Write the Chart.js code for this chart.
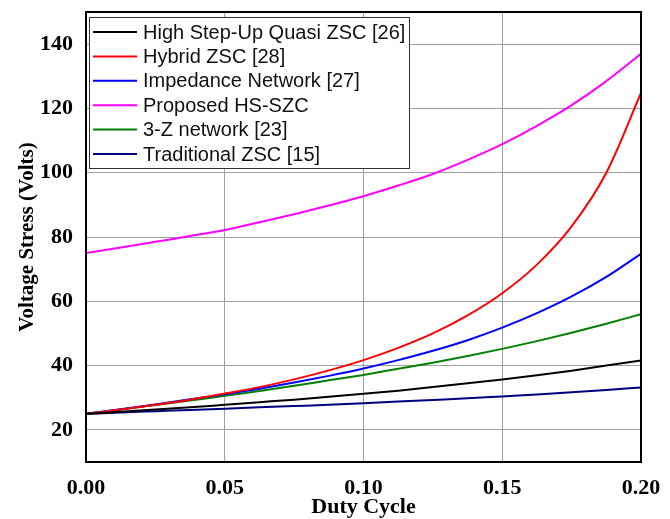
<!DOCTYPE html>
<html>
<head>
<meta charset="utf-8">
<script src="https://cdn.jsdelivr.net/npm/chart.js@4.4.1/dist/chart.umd.min.js"></script>
<style>
  html, body { margin: 0; padding: 0; background: #fff; }
  #wrap { width: 670px; height: 519px; }
</style>
</head>
<body>
<div id="wrap"><canvas id="stressChart" width="670" height="519"></canvas></div>
<script>
// duty cycle samples and voltage stress
const dutyCycle = [0, 0.0125, 0.025, 0.0375, 0.05, 0.0625, 0.075, 0.0875, 0.1, 0.1125, 0.125, 0.1375, 0.15, 0.1625, 0.175, 0.1875, 0.2];

const highStepUp  = [25, 25.6, 26.3, 27.0, 27.8, 28.6, 29.4, 30.3, 31.2, 32.2, 33.3, 34.5, 35.7, 37.0, 38.4, 40.0, 41.6];
const hybridZsc   = [25, 26.3, 27.8, 29.4, 31.3, 33.3, 35.7, 38.5, 41.7, 45.5, 50.0, 55.6, 62.5, 71.4, 83.3, 100.0, 124.8];
const impedance   = [25, 26.4, 27.9, 29.5, 31.1, 32.8, 34.7, 36.8, 39.1, 41.7, 44.6, 47.9, 51.8, 56.3, 61.5, 67.6, 74.8];
const proposed    = [75, 76.7, 78.5, 80.3, 82.2, 84.6, 87.1, 89.8, 92.7, 96.0, 99.6, 104.0, 108.9, 114.6, 121.0, 128.5, 137.0];
const threeZ      = [25, 26.3, 27.7, 29.1, 30.6, 32.1, 33.7, 35.4, 37.1, 39.0, 40.9, 43.0, 45.2, 47.6, 50.2, 53.0, 56.0];
const traditional = [25, 25.4, 25.8, 26.2, 26.6, 27.0, 27.4, 27.8, 28.3, 28.8, 29.3, 29.8, 30.4, 31.0, 31.7, 32.4, 33.2];

const seriesNames  = ['High Step-Up Quasi ZSC [26]', 'Hybrid ZSC [28]', 'Impedance Network [27]', 'Proposed HS-SZC', '3-Z network [23]', 'Traditional ZSC [15]'];
const seriesColors = ['#000000', '#ff0000', '#0000ff', '#ff00ff', '#008000', '#000080'];
const seriesValues = [highStepUp, hybridZsc, impedance, proposed, threeZ, traditional];

const yTicks = [20, 40, 60, 80, 100, 120, 140];

const serif = "'Liberation Serif', 'DejaVu Serif', serif";
const sans = "'Liberation Sans', Arial, sans-serif";

// frame around the plot + boxed legend in the upper left
const framePlugin = {
    id: 'frame',
    afterDatasetsDraw(chart) {
        const { ctx, chartArea: a } = chart;
        ctx.save();
        ctx.strokeStyle = '#000';
        ctx.lineWidth = 2;
        ctx.strokeRect(a.left, a.top, a.right - a.left, a.bottom - a.top);

        // legend box
        const bx = 89, by = 17, bw = 320, bh = 151;
        ctx.fillStyle = '#fff';
        ctx.fillRect(bx, by, bw, bh);
        ctx.strokeStyle = '#333';
        ctx.lineWidth = 1;
        ctx.strokeRect(bx + 0.5, by + 0.5, bw, bh);

        ctx.font = '20px ' + sans;
        ctx.textBaseline = 'middle';
        ctx.textAlign = 'left';
        chart.data.datasets.forEach((ds, i) => {
            const y = by + 15 + i * 24.4;
            ctx.strokeStyle = ds.borderColor;
            ctx.lineWidth = 2;
            ctx.beginPath();
            ctx.moveTo(bx + 4, y);
            ctx.lineTo(bx + 48, y);
            ctx.stroke();
            ctx.fillStyle = '#111';
            ctx.fillText(ds.label, bx + 54, y + 1);
        });
        ctx.restore();
    }
};

const datasets = seriesValues.map((vals, i) => ({
    label: seriesNames[i],
    data: vals.map((v, k) => ({ x: dutyCycle[k], y: v })),
    borderColor: seriesColors[i],
    backgroundColor: seriesColors[i],
    borderWidth: 2,
    pointRadius: 0,
    cubicInterpolationMode: 'monotone',
    fill: false
}));

new Chart(document.getElementById('stressChart').getContext('2d'), {
    type: 'line',
    data: { datasets: datasets },
    options: {
        responsive: false,
        animation: false,
        layout: { padding: { top: 12, right: 29, bottom: 0, left: 0 } },
        plugins: {
            legend: { display: false },
            tooltip: { enabled: false }
        },
        scales: {
            x: {
                type: 'linear',
                min: 0,
                max: 0.2,
                afterFit: (s) => { s.height = 57; s.paddingLeft = 0; s.paddingRight = 0; },
                ticks: {
                    stepSize: 0.05,
                    padding: 13,
                    color: '#000',
                    font: { family: serif, size: 22, weight: 'bold' },
                    callback: (v) => v.toFixed(2),
                    maxRotation: 0
                },
                grid: { color: '#a0a0a0', lineWidth: 1, drawTicks: false },
                border: { display: false },
                title: {
                    display: true,
                    text: 'Duty Cycle',
                    color: '#000',
                    font: { family: serif, size: 22, weight: 'bold' },
                    padding: { top: 0, bottom: -2 }
                }
            },
            y: {
                min: 10,
                max: 150,
                afterFit: (s) => { s.width = 86; s.paddingTop = 0; s.paddingBottom = 0; },
                afterBuildTicks: (s) => { s.ticks = yTicks.map(v => ({ value: v })); },
                ticks: {
                    padding: 13,
                    color: '#000',
                    font: { family: serif, size: 22, weight: 'bold' }
                },
                grid: { color: '#a0a0a0', lineWidth: 1, drawTicks: false },
                border: { display: false },
                title: {
                    display: true,
                    text: 'Voltage Stress (Volts)',
                    color: '#000',
                    font: { family: serif, size: 21, weight: 'bold' },
                    padding: { top: 15, bottom: 0 }
                }
            }
        }
    },
    plugins: [framePlugin]
});
</script>
</body>
</html>
